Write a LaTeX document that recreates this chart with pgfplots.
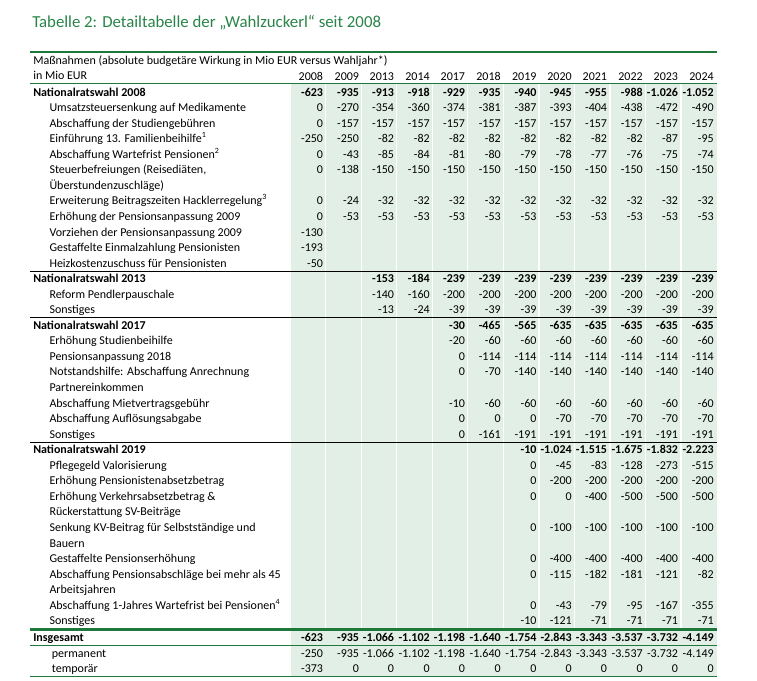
\documentclass[border=0pt]{standalone}
\usepackage{fontspec}
\setmainfont{Carlito}
\usepackage{pgfplots}
\usepackage{pgfplotstable}
\pgfplotsset{compat=1.18}

\definecolor{fgreen}{RGB}{30,120,60}
\definecolor{tgreen}{RGB}{40,132,72}
\definecolor{cellgreen}{RGB}{226,239,230}

\newcommand\tabfont{\fontsize{9pt}{10.5pt}\selectfont}
\newcommand\ind{\hspace*{12.2pt}}

% rows: y = pixel centre of the row, one column per year (nan = empty cell)
\pgfplotstableread{
y     v08  v09  v13   v14   v17   v18   v19   v20   v21   v22   v23   v24
92.3  -623 -935 -913  -918  -929  -935  -940  -945  -955  -988  -1026 -1052
278.9 nan  nan  -153  -184  -239  -239  -239  -239  -239  -239  -239  -239
325.6 nan  nan  nan   nan   -30   -465  -565  -635  -635  -635  -635  -635
450.0 nan  nan  nan   nan   nan   nan   -10   -1024 -1515 -1675 -1832 -2223
638.0 -623 -935 -1066 -1102 -1198 -1640 -1754 -2843 -3343 -3537 -3732 -4149
}\sums

\pgfplotstableread{
y     v08  v09  v13   v14   v17   v18   v19   v20   v21   v22   v23   v24
107.9 0    -270 -354  -360  -374  -381  -387  -393  -404  -438  -472  -490
123.4 0    -157 -157  -157  -157  -157  -157  -157  -157  -157  -157  -157
139.0 -250 -250 -82   -82   -82   -82   -82   -82   -82   -82   -87   -95
154.5 0    -43  -85   -84   -81   -80   -79   -78   -77   -76   -75   -74
170.1 0    -138 -150  -150  -150  -150  -150  -150  -150  -150  -150  -150
201.2 0    -24  -32   -32   -32   -32   -32   -32   -32   -32   -32   -32
216.7 0    -53  -53   -53   -53   -53   -53   -53   -53   -53   -53   -53
232.3 -130 nan  nan   nan   nan   nan   nan   nan   nan   nan   nan   nan
247.8 -193 nan  nan   nan   nan   nan   nan   nan   nan   nan   nan   nan
263.4 -50  nan  nan   nan   nan   nan   nan   nan   nan   nan   nan   nan
294.5 nan  nan  -140  -160  -200  -200  -200  -200  -200  -200  -200  -200
310.0 nan  nan  -13   -24   -39   -39   -39   -39   -39   -39   -39   -39
341.1 nan  nan  nan   nan   -20   -60   -60   -60   -60   -60   -60   -60
356.7 nan  nan  nan   nan   0     -114  -114  -114  -114  -114  -114  -114
372.2 nan  nan  nan   nan   0     -70   -140  -140  -140  -140  -140  -140
403.3 nan  nan  nan   nan   -10   -60   -60   -60   -60   -60   -60   -60
418.9 nan  nan  nan   nan   0     0     0     -70   -70   -70   -70   -70
434.4 nan  nan  nan   nan   0     -161  -191  -191  -191  -191  -191  -191
465.5 nan  nan  nan   nan   nan   nan   0     -45   -83   -128  -273  -515
481.1 nan  nan  nan   nan   nan   nan   0     -200  -200  -200  -200  -200
496.6 nan  nan  nan   nan   nan   nan   0     0     -400  -500  -500  -500
527.7 nan  nan  nan   nan   nan   nan   0     -100  -100  -100  -100  -100
558.8 nan  nan  nan   nan   nan   nan   0     -400  -400  -400  -400  -400
574.4 nan  nan  nan   nan   nan   nan   0     -115  -182  -181  -121  -82
605.5 nan  nan  nan   nan   nan   nan   0     -43   -79   -95   -167  -355
621.0 nan  nan  nan   nan   nan   nan   -10   -121  -71   -71   -71   -71
653.5 -250 -935 -1066 -1102 -1198 -1640 -1754 -2843 -3343 -3537 -3732 -4149
668.5 -373 0    0     0     0     0     0     0     0     0     0     0
}\items

\pgfplotsset{
  valstyle/.style={only marks, mark=*, mark size=0pt,
    mark options={draw=none, fill=none},
    point meta=explicit,
    unbounded coords=discard, filter discard warning=false,
    nodes near coords={\pgfmathprintnumber[fixed, precision=0,
      1000 sep={.}, assume math mode=true]{\pgfplotspointmeta}},
    every node near coord/.append style={anchor=base east, inner sep=0pt,
      yshift=-2.8pt, font=\tabfont, text=black}},
}

% one column of numbers: table, column, right edge, extra style
% (x turns nan for an empty cell, so that point is dropped)
\newcommand\valcol[4]{%
  \addplot[valstyle, #4] table[x expr={#3+\thisrow{#2}-\thisrow{#2}}, y=y, meta=#2] {#1};}

\begin{document}
\begin{tikzpicture}
\begin{axis}[
  width=567.75pt, height=510.75pt, scale only axis,
  xmin=0, xmax=757, ymin=0, ymax=681, y dir=reverse,
  clip=false,
  axis line style={draw=none},
  tick style={draw=none}, major tick length=0pt,
  xtick=\empty,
  ytick={92.3,107.9,123.4,139.0,154.5,170.1,185.6,201.2,216.7,232.3,247.8,263.4,
    278.9,294.5,310.0,325.6,341.1,356.7,372.2,387.8,403.3,418.9,434.4,
    450.0,465.5,481.1,496.6,512.2,527.7,543.3,558.8,574.4,589.9,605.5,621.0,
    638.0,653.5,668.5},
  yticklabels={
    {\textbf{Nationalratswahl 2008}},
    {\ind Umsatzsteuersenkung auf Medikamente},
    {\ind Abschaffung der Studiengebühren},
    {\ind Einführung 13. Familienbeihilfe\textsuperscript{1}},
    {\ind Abschaffung Wartefrist Pensionen\textsuperscript{2}},
    {\ind Steuerbefreiungen (Reisediäten,},
    {\ind Überstundenzuschläge)},
    {\ind Erweiterung Beitragszeiten Hacklerregelung\textsuperscript{3}},
    {\ind Erhöhung der Pensionsanpassung 2009},
    {\ind Vorziehen der Pensionsanpassung 2009},
    {\ind Gestaffelte Einmalzahlung Pensionisten},
    {\ind Heizkostenzuschuss für Pensionisten},
    {\textbf{Nationalratswahl 2013}},
    {\ind Reform Pendlerpauschale},
    {\ind Sonstiges},
    {\textbf{Nationalratswahl 2017}},
    {\ind Erhöhung Studienbeihilfe},
    {\ind Pensionsanpassung 2018},
    {\ind Notstandshilfe: Abschaffung Anrechnung},
    {\ind Partnereinkommen},
    {\ind Abschaffung Mietvertragsgebühr},
    {\ind Abschaffung Auflösungsabgabe},
    {\ind Sonstiges},
    {\textbf{Nationalratswahl 2019}},
    {\ind Pflegegeld Valorisierung},
    {\ind Erhöhung Pensionistenabsetzbetrag},
    {\ind Erhöhung Verkehrsabsetzbetrag \&},
    {\ind Rückerstattung SV-Beiträge},
    {\ind Senkung KV-Beitrag für Selbstständige und},
    {\ind Bauern},
    {\ind Gestaffelte Pensionserhöhung},
    {\ind Abschaffung Pensionsabschläge bei mehr als 45},
    {\ind Arbeitsjahren},
    {\ind Abschaffung 1-Jahres Wartefrist bei Pensionen\textsuperscript{4}},
    {\ind Sonstiges},
    {\textbf{Insgesamt}},
    {\hspace*{14pt}permanent},
    {\hspace*{14pt}temporär}},
  yticklabel style={anchor=base west, inner sep=0pt, xshift=24.75pt,
    yshift=-2.8pt, font=\tabfont, text=black},
]
% cell background and white column gaps
\fill[cellgreen] (axis cs:291,84) rectangle (axis cs:716.5,676);
\pgfplotsinvokeforeach{325.9,361.7,396.8,432.6,467.7,503.3,539,574.7,610,645.7,681}{
  \draw[white, line width=0.8pt] (axis cs:#1,84) -- (axis cs:#1,629);}

% rules
\draw[fgreen, line width=1.5pt] (axis cs:30,51.7) -- (axis cs:717,51.7);
\draw[fgreen, line width=0.75pt] (axis cs:30,83.5) -- (axis cs:717,83.5);
\pgfplotsinvokeforeach{271.1,317.8,442.2}{
  \draw[black, line width=0.75pt] (axis cs:30,#1) -- (axis cs:717,#1);}
\draw[fgreen, line width=1.6pt] (axis cs:30,629.5) -- (axis cs:717,629.5);
\draw[fgreen, line width=0.75pt] (axis cs:30,645.8) -- (axis cs:717,645.8);
\draw[fgreen, line width=1pt] (axis cs:30,676.2) -- (axis cs:717,676.2);

% title and header
\node[anchor=base west, inner sep=0pt, text=tgreen,
  font=\fontsize{12.6pt}{15pt}\selectfont] at (axis cs:32,28)
  {Tabelle 2: Detailtabelle der „Wahlzuckerl“ seit 2008};
\node[anchor=base west, inner sep=0pt, font=\tabfont] at (axis cs:33,64.7)
  {Maßnahmen (absolute budgetäre Wirkung in Mio EUR versus Wahljahr*)};
\node[anchor=base west, inner sep=0pt, font=\tabfont] at (axis cs:33,80)
  {in Mio EUR};

\addplot[only marks, mark=*, mark size=0pt, mark options={draw=none, fill=none},
  point meta=explicit symbolic, nodes near coords,
  every node near coord/.append style={anchor=base east, inner sep=0pt,
    yshift=-2.8pt, font=\tabfont, text=black}]
  coordinates {(323.3,76.3)[2008] (359.3,76.3)[2009] (394.3,76.3)[2013]
    (430,76.3)[2014] (465.3,76.3)[2017] (501,76.3)[2018] (536.7,76.3)[2019]
    (572,76.3)[2020] (607.3,76.3)[2021] (643,76.3)[2022] (678.3,76.3)[2023]
    (714,76.3)[2024]};

% numbers
\valcol{\items}{v08}{323.3}{}
\valcol{\items}{v09}{359.3}{}
\valcol{\items}{v13}{394.3}{}
\valcol{\items}{v14}{430}{}
\valcol{\items}{v17}{465.3}{}
\valcol{\items}{v18}{501}{}
\valcol{\items}{v19}{536.7}{}
\valcol{\items}{v20}{572}{}
\valcol{\items}{v21}{607.3}{}
\valcol{\items}{v22}{643}{}
\valcol{\items}{v23}{678.3}{}
\valcol{\items}{v24}{714}{}
\valcol{\sums}{v08}{323.3}{every node near coord/.append style={font=\tabfont\bfseries}}
\valcol{\sums}{v09}{359.3}{every node near coord/.append style={font=\tabfont\bfseries}}
\valcol{\sums}{v13}{394.3}{every node near coord/.append style={font=\tabfont\bfseries}}
\valcol{\sums}{v14}{430}{every node near coord/.append style={font=\tabfont\bfseries}}
\valcol{\sums}{v17}{465.3}{every node near coord/.append style={font=\tabfont\bfseries}}
\valcol{\sums}{v18}{501}{every node near coord/.append style={font=\tabfont\bfseries}}
\valcol{\sums}{v19}{536.7}{every node near coord/.append style={font=\tabfont\bfseries}}
\valcol{\sums}{v20}{572}{every node near coord/.append style={font=\tabfont\bfseries}}
\valcol{\sums}{v21}{607.3}{every node near coord/.append style={font=\tabfont\bfseries}}
\valcol{\sums}{v22}{643}{every node near coord/.append style={font=\tabfont\bfseries}}
\valcol{\sums}{v23}{678.3}{every node near coord/.append style={font=\tabfont\bfseries}}
\valcol{\sums}{v24}{714}{every node near coord/.append style={font=\tabfont\bfseries}}
\end{axis}
\end{tikzpicture}
\end{document}
